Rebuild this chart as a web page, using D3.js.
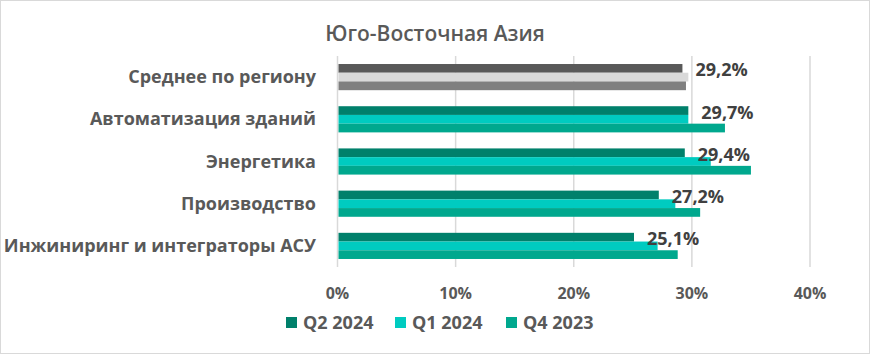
<!DOCTYPE html>
<html>
<head>
<meta charset="utf-8">
<script src="https://cdn.jsdelivr.net/npm/d3@7"></script>
<style>
  body { margin: 0; background: #fff; }
  svg text { font-family: "Open Sans", "Noto Sans", sans-serif; }
</style>
</head>
<body>
<div id="chart"></div>
<script>
const categories = ["Среднее по региону", "Автоматизация зданий", "Энергетика", "Производство", "Инжиниринг и интеграторы АСУ"];
const seriesNames = ["Q2 2024", "Q1 2024", "Q4 2023"];
const q2_2024 = [29.2, 29.7, 29.4, 27.2, 25.1];
const q1_2024 = [29.7, 29.7, 31.6, 28.6, 27.1];
const q4_2023 = [29.5, 32.8, 35.0, 30.7, 28.8];
const xTicks = [0, 10, 20, 30, 40];

const seriesColors = ["#00806b", "#00cbc0", "#00a88e"];
const avgColors = ["#595959", "#d9d9d9", "#7f7f7f"];

const width = 870, height = 354;
const margin = { top: 56, right: 60, bottom: 87, left: 337.5 };

const svg = d3.select("#chart").append("svg")
    .attr("width", width).attr("height", height);

// frame
svg.append("rect")
    .attr("x", 0.5).attr("y", 0.5)
    .attr("width", width - 1).attr("height", height - 1)
    .attr("fill", "#fff").attr("stroke", "#d9d9d9");

svg.append("text")
    .attr("x", 435).attr("y", 41)
    .attr("text-anchor", "middle")
    .style("font-size", "21px").style("font-weight", 600)
    .style("fill", "#595959")
    .text("Юго-Восточная Азия");

const x = d3.scaleLinear().domain([0, 40]).range([margin.left, width - margin.right]);
const y = d3.scaleBand().domain(categories)
    .range([margin.top, height - margin.bottom])
    .paddingInner(0.38).paddingOuter(0.19);
const ySub = d3.scaleBand().domain(seriesNames).range([0, y.bandwidth()]);

// gridlines
svg.append("g").selectAll("line")
    .data(xTicks)
    .join("line")
    .attr("x1", d => x(d)).attr("x2", d => x(d))
    .attr("y1", margin.top).attr("y2", height - margin.bottom)
    .attr("stroke", "#d9d9d9").attr("stroke-width", 1.5);

// tick labels
svg.append("g").selectAll("text")
    .data(xTicks)
    .join("text")
    .attr("x", d => x(d)).attr("y", 299)
    .attr("text-anchor", "middle")
    .style("font-size", "16px").style("font-weight", "bold")
    .style("fill", "#595959")
    .text(d => d + "%");

const rows = categories.map((c, i) => ({
    cat: c,
    vals: [q2_2024[i], q1_2024[i], q4_2023[i]]
}));

const groups = svg.append("g").selectAll("g")
    .data(rows)
    .join("g")
    .attr("transform", d => `translate(0,${y(d.cat)})`);

groups.selectAll("rect")
    .data((d, i) => d.vals.map((v, j) => ({ v, j, avg: i === 0 })))
    .join("rect")
    .attr("x", x(0) + 1)
    .attr("y", d => ySub(seriesNames[d.j]))
    .attr("width", d => x(d.v) - x(0) - 1)
    .attr("height", ySub.bandwidth())
    .attr("fill", d => d.avg ? avgColors[d.j] : seriesColors[d.j]);

// value labels (Q2 2024)
groups.append("text")
    .attr("x", d => x(d.vals[0]) + 13)
    .attr("y", ySub(seriesNames[0]) + ySub.bandwidth() / 2 + 8)
    .style("font-size", "18px").style("font-weight", "bold")
    .style("fill", "#404040")
    .text(d => d.vals[0].toFixed(1).replace(".", ",") + "%");

// category labels
svg.append("g").selectAll("text")
    .data(categories)
    .join("text")
    .attr("x", 316)
    .attr("y", d => y(d) + y.bandwidth() / 2 + 6)
    .attr("text-anchor", "end")
    .style("font-size", "18px").style("font-weight", "bold")
    .style("fill", "#595959")
    .text(d => d);

// legend
const legendX = [286, 395, 506];
const legend = svg.append("g").selectAll("g")
    .data(seriesNames)
    .join("g")
    .attr("transform", (d, i) => `translate(${legendX[i]},317)`);
legend.append("rect")
    .attr("width", 11).attr("height", 11)
    .attr("fill", (d, i) => seriesColors[i]);
legend.append("text")
    .attr("x", 17).attr("y", 12)
    .style("font-size", "18px").style("font-weight", "bold")
    .style("fill", "#595959")
    .text(d => d);
</script>
</body>
</html>
